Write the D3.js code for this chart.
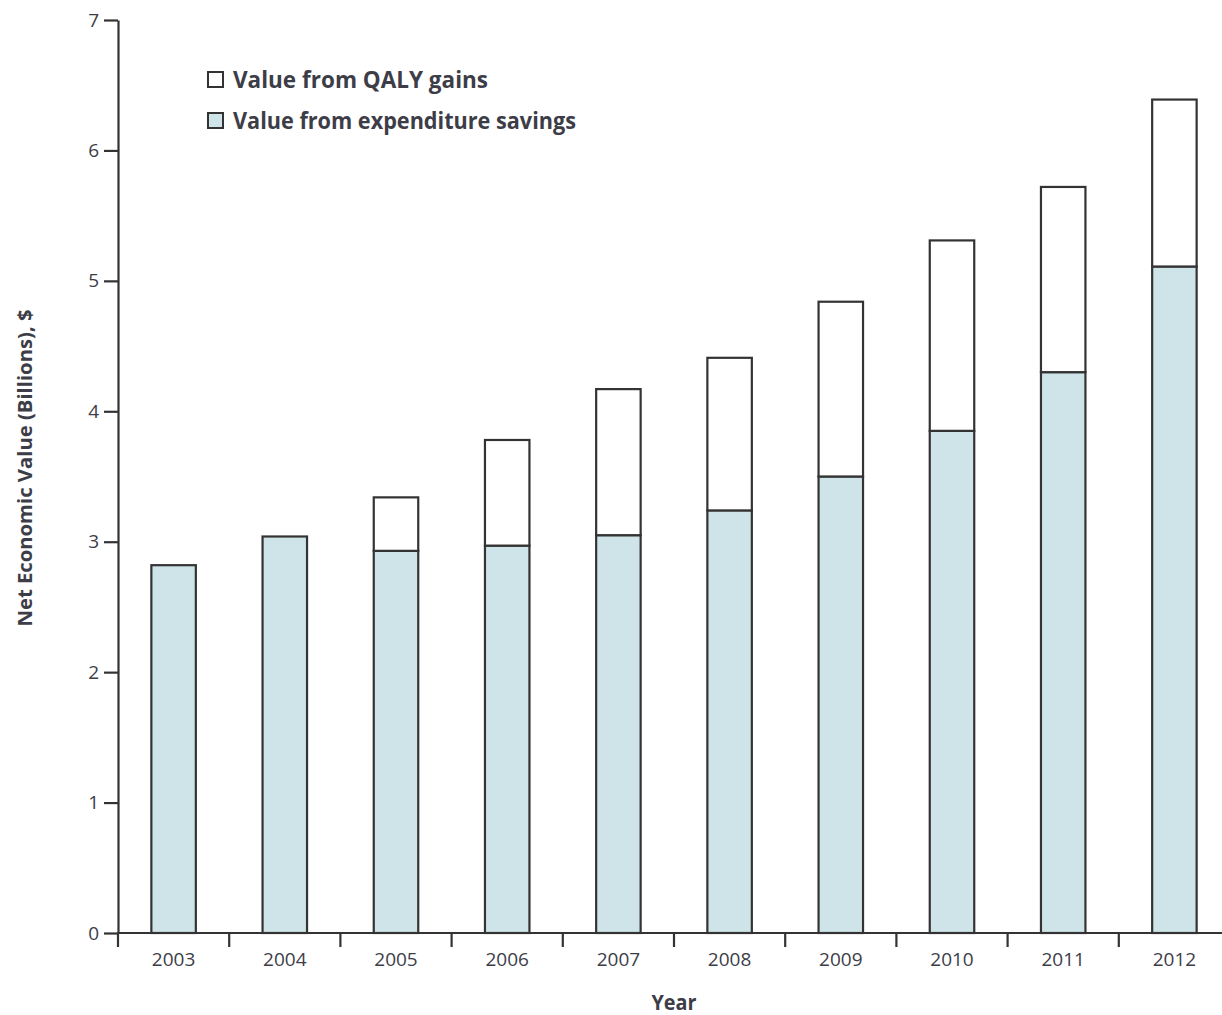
<!DOCTYPE html>
<html><head><meta charset="utf-8">
<script src="https://cdn.jsdelivr.net/npm/d3@7"></script>
<style>
html,body{margin:0;padding:0;background:#fff;}
svg{display:block;}
text{font-family:"Open Sans",sans-serif;fill:#3d3d48;}
</style></head>
<body>
<svg id="chart" width="1222" height="1015"></svg>
<script>
const years = ["2003","2004","2005","2006","2007","2008","2009","2010","2011","2012"];
const expenditureSavings = [2.82, 3.04, 2.93, 2.97, 3.05, 3.24, 3.50, 3.85, 4.30, 5.11];
const totalValue = [2.82, 3.04, 3.34, 3.78, 4.17, 4.41, 4.84, 5.31, 5.72, 6.39];
const yTicks = [0,1,2,3,4,5,6,7];
const legendLabels = ["Value from QALY gains", "Value from expenditure savings"];
const seriesColors = ["#ffffff", "#cfe4e8"];

const svg = d3.select("#chart");
const stroke = "#333333";

const y = d3.scaleLinear().domain([0,7]).range([933,20]);
const x = d3.scaleBand().domain(years).range([118,1230]).paddingInner(0.6).paddingOuter(0.3);

// bars
const g = svg.append("g");
years.forEach((yr,i)=>{
  const s = expenditureSavings[i], t = totalValue[i];
  g.append("rect").attr("x", x(yr)).attr("width", x.bandwidth())
    .attr("y", y(s)).attr("height", y(0)-y(s))
    .attr("fill", seriesColors[1]).attr("stroke", stroke).attr("stroke-width", 2.2);
  if (t > s) {
    g.append("rect").attr("x", x(yr)).attr("width", x.bandwidth())
      .attr("y", y(t)).attr("height", y(s)-y(t))
      .attr("fill", seriesColors[0]).attr("stroke", stroke).attr("stroke-width", 2.2);
  }
});

// y axis
const yAxis = svg.append("g").attr("transform","translate(118,0)")
  .call(d3.axisLeft(y).tickValues(yTicks).tickSize(14).tickSizeOuter(0).tickPadding(5).tickFormat(d3.format("d")));
yAxis.selectAll("path,line").attr("stroke", stroke).attr("stroke-width", 2.2);
yAxis.selectAll("text").attr("font-size", 19).style("font-family", '"Open Sans",sans-serif').attr("fill","#3d3d48");

// x axis
const xAxis = svg.append("g").attr("transform","translate(0,933)")
  .call(d3.axisBottom(x).tickSize(0).tickPadding(20));
xAxis.select(".domain").remove();
xAxis.selectAll("text").attr("font-size", 19).style("font-family", '"Open Sans",sans-serif').attr("fill","#3d3d48");
svg.append("line").attr("x1",117).attr("x2",1222).attr("y1",933).attr("y2",933)
  .attr("stroke",stroke).attr("stroke-width",2.2);
svg.append("g").selectAll("line").data(years).join("line")
  .attr("x1", d => x(d) - (x.step()-x.bandwidth())/2)
  .attr("x2", d => x(d) - (x.step()-x.bandwidth())/2)
  .attr("y1", 933).attr("y2", 947)
  .attr("stroke", stroke).attr("stroke-width", 2.2);

// axis titles
svg.append("text").attr("x", 674).attr("y", 1010).attr("text-anchor","middle")
  .attr("font-size", 21).attr("font-weight","bold")
  .attr("textLength", 45).attr("lengthAdjust","spacingAndGlyphs").text("Year");
svg.append("text").attr("transform","translate(32,468) rotate(-90)").attr("text-anchor","middle")
  .attr("font-size", 20).attr("font-weight","bold")
  .attr("textLength", 317).attr("lengthAdjust","spacingAndGlyphs").text("Net Economic Value (Billions), $");

// legend
const legendWidths = [255, 343];
const leg = svg.append("g");
legendLabels.forEach((lab,i)=>{
  const yy = 72 + i*41;
  leg.append("rect").attr("x",208).attr("y",yy).attr("width",15).attr("height",15)
    .attr("fill", seriesColors[i]).attr("stroke", stroke).attr("stroke-width",2);
  leg.append("text").attr("x",233).attr("y",yy+16).attr("font-size",23).attr("font-weight","bold")
    .attr("textLength", legendWidths[i]).attr("lengthAdjust","spacingAndGlyphs").text(lab);
});
</script>
</body></html>
